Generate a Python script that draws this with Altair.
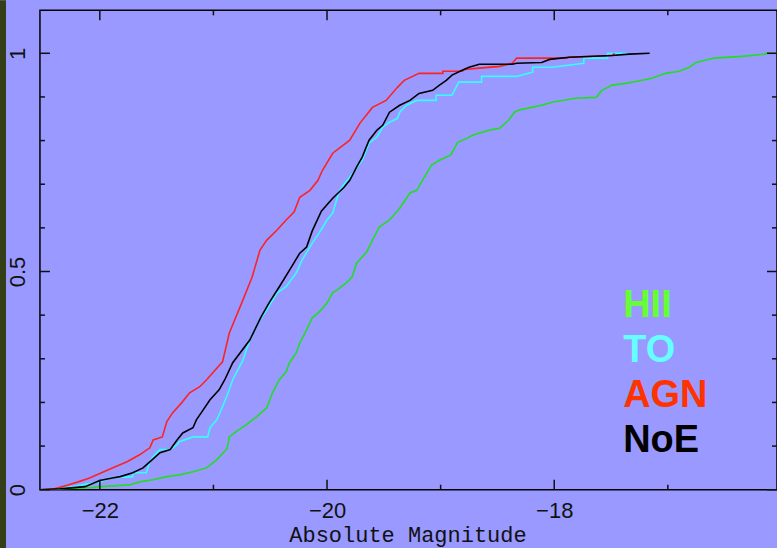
import altair as alt
import pandas as pd

# Cumulative fraction of galaxies brighter than a given absolute magnitude,
# one curve per spectral class.
hii_mag = [-22.53, -22.06, -22.00, -21.74, -21.65, -21.53, -21.41, -21.30, -21.18, -21.06,
           -20.97, -20.88, -20.86, -20.80, -20.71, -20.62, -20.53, -20.48, -20.42, -20.36,
           -20.33, -20.27, -20.24, -20.18, -20.13, -20.07, -20.00, -19.95, -19.89, -19.83,
           -19.78, -19.74, -19.65, -19.60, -19.54, -19.45, -19.36, -19.27, -19.21, -19.16,
           -19.08, -19.01, -18.91, -18.85, -18.77, -18.72, -18.57, -18.48, -18.40, -18.35,
           -18.31, -18.20, -18.11, -18.02, -17.81, -17.63, -17.58, -17.49, -17.37, -17.27,
           -17.14, -17.02, -16.90, -16.81, -16.75, -16.59, -16.35, -16.14, -16.14, -15.93]
hii_frac = [0.000, 0.005, 0.007, 0.011, 0.018, 0.023, 0.030, 0.034, 0.041, 0.050,
            0.069, 0.094, 0.121, 0.133, 0.149, 0.167, 0.188, 0.222, 0.252, 0.270,
            0.291, 0.314, 0.336, 0.366, 0.394, 0.407, 0.428, 0.451, 0.462, 0.474,
            0.487, 0.519, 0.545, 0.572, 0.602, 0.618, 0.645, 0.680, 0.686, 0.709,
            0.744, 0.755, 0.767, 0.796, 0.805, 0.812, 0.824, 0.828, 0.847, 0.865,
            0.870, 0.876, 0.881, 0.888, 0.897, 0.899, 0.915, 0.927, 0.931, 0.936,
            0.943, 0.954, 0.959, 0.968, 0.979, 0.989, 0.993, 0.998, 1.000, 1.000]

to_mag = [-22.53, -22.35, -22.00, -21.91, -21.71, -21.71, -21.59, -21.56, -21.53, -21.47,
          -21.38, -21.32, -21.30, -21.18, -21.05, -21.03, -20.97, -20.92, -20.87, -20.83,
          -20.74, -20.68, -20.59, -20.53, -20.44, -20.36, -20.27, -20.22, -20.13, -20.07,
          -20.00, -19.95, -19.89, -19.80, -19.69, -19.63, -19.56, -19.51, -19.45, -19.38,
          -19.36, -19.30, -19.21, -19.04, -19.04, -18.90, -18.84, -18.64, -18.64, -18.33,
          -18.19, -18.19, -18.02, -17.74, -17.74, -17.53, -17.53, -17.36]
to_frac = [0.000, 0.002, 0.018, 0.027, 0.030, 0.039, 0.039, 0.064, 0.076, 0.092,
           0.092, 0.103, 0.110, 0.121, 0.121, 0.142, 0.160, 0.190, 0.222, 0.252,
           0.297, 0.343, 0.389, 0.412, 0.451, 0.465, 0.497, 0.526, 0.565, 0.588,
           0.618, 0.634, 0.686, 0.716, 0.755, 0.794, 0.808, 0.831, 0.842, 0.851,
           0.865, 0.881, 0.892, 0.892, 0.904, 0.904, 0.934, 0.934, 0.947, 0.947,
           0.957, 0.968, 0.968, 0.977, 0.989, 0.989, 1.000, 1.000]

agn_mag = [-22.53, -22.40, -22.28, -22.19, -22.09, -22.00, -21.89, -21.76, -21.65, -21.56,
           -21.53, -21.45, -21.41, -21.36, -21.28, -21.21, -21.12, -21.06, -20.92, -20.86,
           -20.74, -20.66, -20.59, -20.53, -20.44, -20.36, -20.29, -20.24, -20.15, -20.08,
           -20.04, -19.95, -19.80, -19.71, -19.60, -19.48, -19.38, -19.32, -19.19, -18.98,
           -18.98, -18.81, -18.79, -18.66, -18.48, -18.37, -18.33, -17.89, -17.87, -17.49,
           -17.47]
agn_frac = [0.000, 0.002, 0.011, 0.018, 0.027, 0.037, 0.050, 0.064, 0.080, 0.096,
            0.114, 0.121, 0.156, 0.176, 0.199, 0.222, 0.236, 0.252, 0.293, 0.359,
            0.435, 0.487, 0.549, 0.572, 0.595, 0.618, 0.636, 0.670, 0.686, 0.709,
            0.732, 0.771, 0.801, 0.840, 0.876, 0.892, 0.922, 0.938, 0.954, 0.954,
            0.959, 0.959, 0.963, 0.966, 0.970, 0.977, 0.989, 0.989, 0.991, 0.995,
            1.000]

noe_mag = [-22.53, -22.35, -22.13, -22.00, -21.89, -21.82, -21.71, -21.62, -21.56, -21.47,
           -21.38, -21.32, -21.27, -21.18, -21.15, -21.09, -21.03, -20.95, -20.90, -20.83,
           -20.68, -20.58, -20.51, -20.42, -20.33, -20.24, -20.18, -20.13, -20.05, -19.95,
           -19.85, -19.80, -19.74, -19.69, -19.63, -19.56, -19.51, -19.45, -19.36, -19.27,
           -19.19, -19.07, -19.01, -18.95, -18.90, -18.81, -18.75, -18.66, -18.37, -18.33,
           -18.11, -18.04, -17.87, -17.49, -17.34, -17.16]
noe_frac = [0.000, 0.002, 0.007, 0.021, 0.027, 0.030, 0.039, 0.050, 0.064, 0.085,
            0.092, 0.114, 0.130, 0.142, 0.160, 0.183, 0.206, 0.229, 0.252, 0.291,
            0.343, 0.396, 0.428, 0.465, 0.503, 0.542, 0.556, 0.593, 0.638, 0.668,
            0.693, 0.709, 0.739, 0.762, 0.801, 0.824, 0.835, 0.865, 0.881, 0.892,
            0.908, 0.915, 0.927, 0.938, 0.950, 0.961, 0.968, 0.975, 0.975, 0.977,
            0.979, 0.986, 0.991, 0.995, 0.998, 1.000]

classes = ["HII", "TO", "AGN", "NoE"]
line_colors = ["#22dd22", "#33ffff", "#ff2222", "#000000"]
label_colors = ["#66ff33", "#66ffff", "#ff3300", "#000000"]

x_major_ticks = [-22, -20, -18]
x_minor_ticks = [-21, -19, -17]
y_major_ticks = [0, 0.5, 1]
y_minor_ticks = [0.1, 0.2, 0.3, 0.4, 0.6, 0.7, 0.8, 0.9]

W, H = 738, 480
BG = "#9999ff"
INK = "#111111"

rows = []
for cls, mags, fracs in [("HII", hii_mag, hii_frac), ("TO", to_mag, to_frac),
                         ("AGN", agn_mag, agn_frac), ("NoE", noe_mag, noe_frac)]:
    for i, (m, f) in enumerate(zip(mags, fracs)):
        rows.append({"cls": cls, "mag": m, "frac": f, "idx": i})
curves = pd.DataFrame(rows)

x_scale = alt.Scale(domain=[-22.527, -16.039], nice=False, zero=False)
y_scale = alt.Scale(domain=[0, 1.0984], nice=False, zero=False)

lines = alt.Chart(curves).mark_line(strokeWidth=1.6, clip=True).encode(
    x=alt.X("mag:Q", scale=x_scale,
            axis=alt.Axis(values=x_major_ticks, format="~g", title="Absolute Magnitude",
                          domain=False, ticks=False, grid=False, labelFlush=False,
                          labelFont="Liberation Sans", labelFontSize=22, labelColor=INK,
                          labelPadding=11,
                          titleFont="Liberation Mono", titleFontSize=22,
                          titleFontWeight="normal", titleColor=INK,
                          titleX=W / 2 - 1, titleY=52, titleAlign="center",
                          titleBaseline="alphabetic")),
    y=alt.Y("frac:Q", scale=y_scale,
            axis=alt.Axis(values=y_major_ticks, format="~g", title=None,
                          domain=False, ticks=False, grid=False, labelFlush=False,
                          labelAngle=270, labelAlign="center", labelBaseline="alphabetic",
                          labelFont="Liberation Sans", labelFontSize=22, labelColor=INK,
                          labelPadding=15)),
    color=alt.Color("cls:N", scale=alt.Scale(domain=classes, range=line_colors), legend=None),
    order="idx:Q",
)


# Inward tick marks on all four sides; they share the scales (and the axes
# defined above) with the curves.
def x_ticks(values, length):
    df = pd.DataFrame({"mag": values})
    bottom = alt.Chart(df).mark_rule(color=INK, strokeWidth=1.5).encode(
        x=alt.X("mag:Q", scale=x_scale),
        y=alt.value(H), y2=alt.value(H - length))
    top = alt.Chart(df).mark_rule(color=INK, strokeWidth=1.5).encode(
        x=alt.X("mag:Q", scale=x_scale),
        y=alt.value(0), y2=alt.value(length))
    return [bottom, top]


def y_ticks(values, length):
    df = pd.DataFrame({"frac": values})
    left = alt.Chart(df).mark_rule(color=INK, strokeWidth=1.5).encode(
        y=alt.Y("frac:Q", scale=y_scale),
        x=alt.value(0), x2=alt.value(length))
    right = alt.Chart(df).mark_rule(color=INK, strokeWidth=1.5).encode(
        y=alt.Y("frac:Q", scale=y_scale),
        x=alt.value(W), x2=alt.value(W - length))
    return [left, right]


ticks = (x_ticks(x_major_ticks, 10) + x_ticks(x_minor_ticks, 5)
         + y_ticks(y_major_ticks, 10) + y_ticks(y_minor_ticks, 5))

# dark strip along the left edge of the figure
strip = alt.Chart(pd.DataFrame({"a": [0]})).mark_rect(color="#343f1a").encode(
    x=alt.value(-40), x2=alt.value(-34), y=alt.value(-10), y2=alt.value(H + 60))

# class names written inside the plot
labels = []
for k, (name, col) in enumerate(zip(classes, label_colors)):
    labels.append(
        alt.Chart(pd.DataFrame({"a": [0]})).mark_text(
            text=name, color=col, font="Liberation Sans", fontWeight="bold", fontSize=38,
            align="left", baseline="alphabetic").encode(
            x=alt.value(584), y=alt.value(307 + 45 * k)))

chart = alt.layer(lines, strip, *ticks, *labels).properties(
    width=W, height=H, autosize="none",
    padding={"left": 40, "top": 10, "right": 0, "bottom": 58},
    background=BG,
).configure_view(stroke="#000000", strokeWidth=1.5, fill=None)

chart.save("out.html", embed_options={"renderer": "svg", "actions": False})
